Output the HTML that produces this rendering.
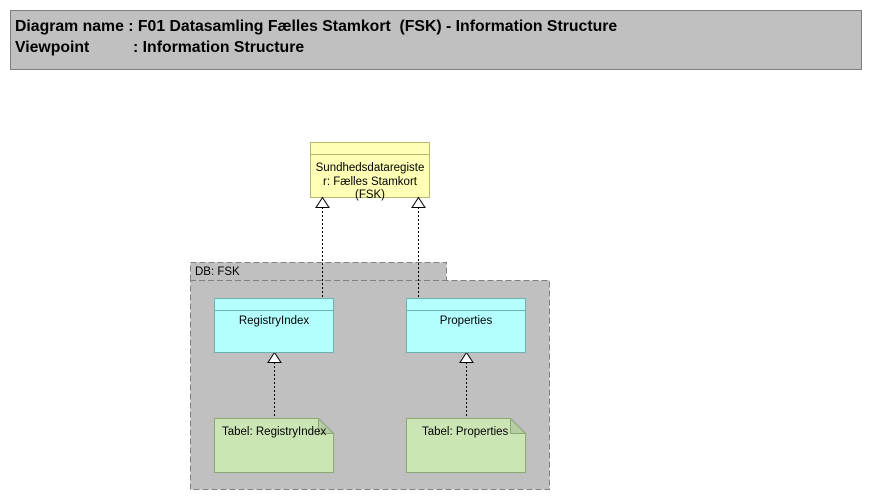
<!DOCTYPE html>
<html><head><meta charset="utf-8"><style>
body{margin:0;width:873px;height:501px;background:#fff;overflow:hidden;font-family:"Liberation Sans",sans-serif}
</style></head><body>
<svg width="873" height="501" xmlns="http://www.w3.org/2000/svg" style="position:absolute;left:0;top:0">
<rect x="10.5" y="10.5" width="851" height="59" fill="#c0c0c0" stroke="#808080"/>
<text x="15" y="31" font-family="Liberation Sans, sans-serif" font-weight="bold" font-size="15.8" fill="#000">Diagram name : F01 Datasamling Fælles Stamkort &#160;(FSK) - Information Structure</text>
<text x="15" y="52" font-family="Liberation Sans, sans-serif" font-weight="bold" font-size="15.8" fill="#000">Viewpoint</text>
<text x="133" y="52" font-family="Liberation Sans, sans-serif" font-weight="bold" font-size="15.8" fill="#000">: Information Structure</text>

<rect x="310.5" y="142.5" width="119" height="55" fill="#ffffb5" stroke="#b8b870"/>
<line x1="310" y1="154.5" x2="430" y2="154.5" stroke="#b8b870"/>
<g font-family="Liberation Sans, sans-serif" font-size="11.5" fill="#000" text-anchor="middle">
<text x="370" y="171">Sundhedsdataregiste</text>
<text x="370" y="185">r: Fælles Stamkort</text>
<text x="370" y="198">(FSK)</text>
</g>

<path d="M190.5 280.5 V262.5 H446.5 V280.5 H549.5 V489.5 H190.5 Z" fill="#c0c0c0" stroke="#808080" stroke-dasharray="6,3"/>
<line x1="190" y1="280.5" x2="447" y2="280.5" stroke="#808080" stroke-dasharray="6,3"/>
<text x="195" y="275" font-family="Liberation Sans, sans-serif" font-size="11.5" fill="#000">DB: FSK</text>

<g stroke="#000" stroke-dasharray="2,2">
<line x1="322.5" y1="207" x2="322.5" y2="298"/>
<line x1="418.5" y1="207" x2="418.5" y2="298"/>
<line x1="274.5" y1="362" x2="274.5" y2="418"/>
<line x1="466.5" y1="362" x2="466.5" y2="418"/>
</g>
<g fill="#fff" stroke="#000">
<path d="M322.5 197.5 L316 207.5 H329 Z"/>
<path d="M418.5 197.5 L412 207.5 H425 Z"/>
<path d="M274.5 352.5 L268 362.5 H281 Z"/>
<path d="M466.5 352.5 L460 362.5 H473 Z"/>
</g>

<g fill="#b3ffff" stroke="#6fb0b0">
<rect x="214.5" y="298.5" width="119" height="54"/>
<rect x="406.5" y="298.5" width="119" height="54"/>
<line x1="214" y1="310.5" x2="334" y2="310.5"/>
<line x1="406" y1="310.5" x2="526" y2="310.5"/>
</g>
<g font-family="Liberation Sans, sans-serif" font-size="11.5" fill="#000" text-anchor="middle">
<text x="274" y="324">RegistryIndex</text>
<text x="466" y="324">Properties</text>
</g>

<g stroke="#8aa878">
<path d="M214.5 418.5 H318.5 L333.5 433.5 V472.5 H214.5 Z" fill="#cce5b5"/>
<path d="M318.5 418.5 V433.5 H333.5 Z" fill="#b6cca2"/>
<path d="M406.5 418.5 H510.5 L525.5 433.5 V472.5 H406.5 Z" fill="#cce5b5"/>
<path d="M510.5 418.5 V433.5 H525.5 Z" fill="#b6cca2"/>
</g>
<g font-family="Liberation Sans, sans-serif" font-size="11.5" fill="#000">
<text x="222" y="435">Tabel: RegistryIndex</text>
<text x="422" y="435">Tabel: Properties</text>
</g>
</svg>
</body></html>
